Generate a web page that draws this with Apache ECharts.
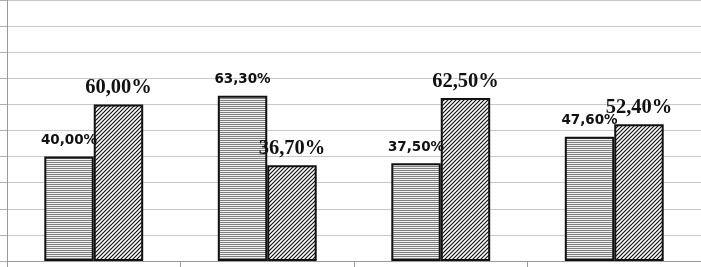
<!DOCTYPE html>
<html>
<head>
<meta charset="utf-8">
<script src="https://cdn.jsdelivr.net/npm/echarts@6/dist/echarts.min.js"></script>
<style>
html,body{margin:0;padding:0;background:#fff;}
#c{width:701px;height:267px;}
</style>
</head>
<body>
<div id="c"></div>
<script>
const categories = ['A', 'B', 'C', 'D'];
const series1Values = [40.0, 63.3, 37.5, 47.6];
const series2Values = [60.0, 36.7, 62.5, 52.4];
const yTicks = [0, 10, 20, 30, 40, 50, 60, 70, 80, 90, 100];

function hPattern() {
  const c = document.createElement('canvas');
  c.width = 4; c.height = 2;
  const g = c.getContext('2d');
  g.fillStyle = '#f0f0f0'; g.fillRect(0, 0, 4, 2);
  g.fillStyle = '#808080'; g.fillRect(0, 0, 4, 1);
  return c;
}
function dPattern() {
  const c = document.createElement('canvas');
  const s = 4;
  c.width = s; c.height = s;
  const g = c.getContext('2d');
  g.fillStyle = '#ffffff'; g.fillRect(0, 0, s, s);
  g.strokeStyle = '#111'; g.lineWidth = 1.2;
  g.beginPath();
  g.moveTo(-1, s + 1); g.lineTo(s + 1, -1);
  g.moveTo(-1, 1); g.lineTo(1, -1);
  g.moveTo(s - 1, s + 1); g.lineTo(s + 1, s - 1);
  g.stroke();
  return c;
}
const fmt = p => p.value.toFixed(2).replace('.', ',') + '%';

const chart = echarts.init(document.getElementById('c'), null, {renderer: 'canvas'});
chart.setOption({
  animation: false,
  backgroundColor: '#ffffff',
  grid: {left: 7, right: 0, top: 0, bottom: 6, containLabel: false},
  xAxis: {
    type: 'category',
    data: categories,
    axisLine: {show: true, lineStyle: {color: '#9a9a9a', width: 1}},
    axisTick: {show: true, length: 6, lineStyle: {color: '#9a9a9a'}},
    axisLabel: {show: false},
    splitLine: {show: false}
  },
  yAxis: {
    type: 'value',
    min: yTicks[0],
    max: yTicks[yTicks.length - 1],
    interval: yTicks[1] - yTicks[0],
    axisLine: {show: true, lineStyle: {color: '#9a9a9a', width: 1}},
    axisTick: {show: true, length: 7, lineStyle: {color: '#b0b0b0'}},
    axisLabel: {show: false},
    splitLine: {show: true, lineStyle: {color: '#c8c8c8', width: 1}}
  },
  series: [
    {
      type: 'bar',
      data: series1Values,
      barWidth: '28.5%',
      barGap: '0%',
      itemStyle: {color: {image: hPattern(), repeat: 'repeat'}, borderColor: '#111', borderWidth: 2},
      label: {
        show: true, position: 'top', distance: 9,
        formatter: fmt,
        fontFamily: 'DejaVu Sans', fontWeight: 'bold', fontSize: 13.5, color: '#111'
      }
    },
    {
      type: 'bar',
      data: series2Values,
      barWidth: '28.5%',
      barGap: '0%',
      itemStyle: {color: {image: dPattern(), repeat: 'repeat'}, borderColor: '#111', borderWidth: 2},
      label: {
        show: true, position: 'top', distance: 6,
        formatter: fmt,
        fontFamily: 'Liberation Serif', fontWeight: 'bold', fontSize: 20.5, color: '#111'
      }
    }
  ]
});
</script>
</body>
</html>
